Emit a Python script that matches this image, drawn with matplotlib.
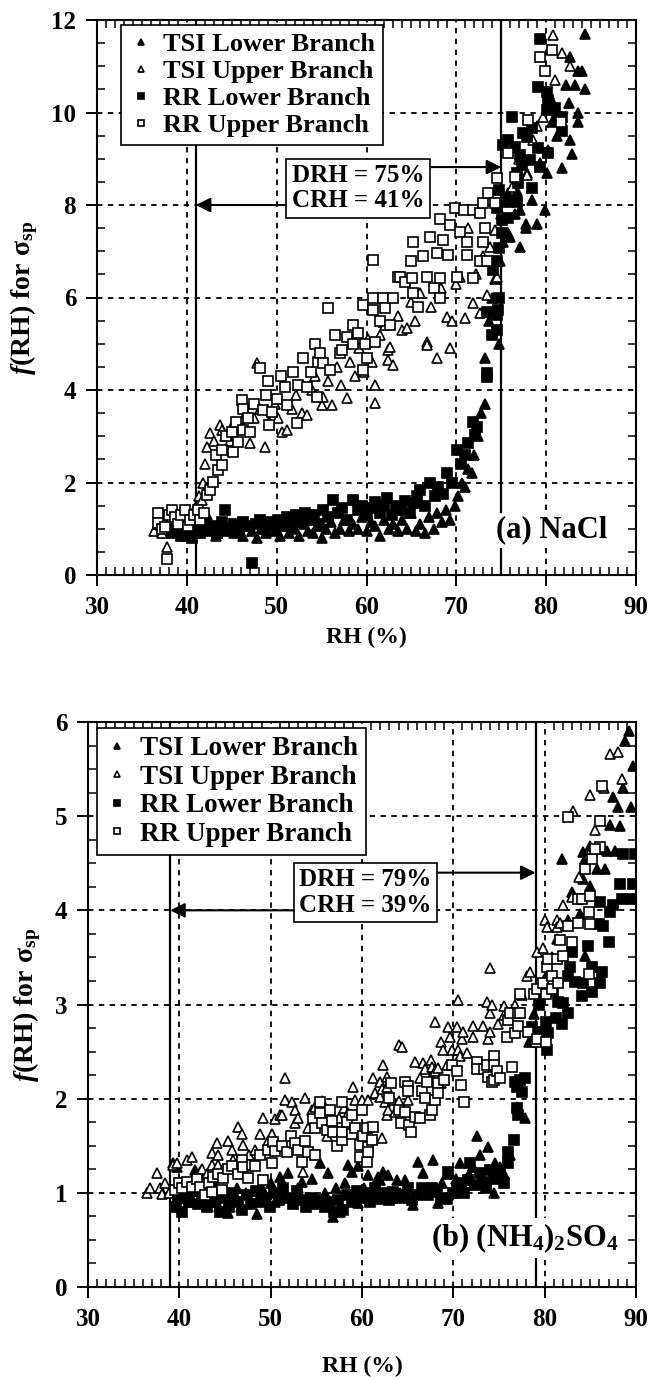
import numpy as np
import matplotlib
matplotlib.use("Agg")
import matplotlib.pyplot as plt
from matplotlib.ticker import MultipleLocator

plt.rcParams['font.family'] = 'serif'
plt.rcParams['font.serif'] = ['Liberation Serif', 'DejaVu Serif']
plt.rcParams['font.weight'] = 'bold'
plt.rcParams['mathtext.fontset'] = 'custom'
plt.rcParams['mathtext.rm'] = 'Liberation Serif:bold'
plt.rcParams['mathtext.it'] = 'Liberation Serif:italic:bold'
plt.rcParams['mathtext.bf'] = 'Liberation Serif:bold'

# ---- (a) NaCl : (RH %, f(RH)) ----
nacl_tsi_lower = [
    (38.5, 0.95), (39.2, 1.05), (39.8, 0.85), (40.3, 1.0), (40.8, 0.9), (41.3, 1.1), (41.8, 0.95),
    (42.3, 1.3), (42.8, 1.0), (43.2, 0.85), (43.7, 1.05), (44.2, 0.95), (44.8, 1.1), (45.3, 0.9),
    (45.8, 1.0), (46.2, 0.85), (46.7, 1.05), (47.2, 0.95), (47.8, 0.8), (48.3, 1.0), (48.8, 0.9),
    (49.3, 1.1), (49.8, 0.95), (50.4, 0.85), (50.9, 1.05), (51.4, 0.9), (52.0, 1.0), (52.5, 0.85),
    (53.0, 1.1), (53.5, 0.95), (54.0, 0.9), (54.5, 1.05), (55.0, 0.8), (55.5, 1.0), (56.0, 1.15),
    (56.5, 0.9), (57.0, 1.0), (57.5, 1.2), (58.0, 0.95), (58.5, 1.1), (59.0, 1.0), (59.5, 1.25),
    (60.0, 0.95), (60.5, 1.15), (61.0, 1.05), (61.5, 0.85), (62.0, 1.2), (62.5, 1.0), (63.0, 1.1),
    (63.5, 0.95), (64.0, 1.2), (64.5, 1.0), (65.0, 1.35), (65.5, 0.95), (66.0, 1.1), (66.5, 0.9),
    (67.0, 1.25), (67.5, 1.0), (67.9, 1.35), (68.4, 1.15), (68.9, 1.4), (69.3, 1.2), (69.8, 1.5),
    (70.2, 1.7), (70.6, 2.0), (71.0, 1.9), (71.3, 2.3), (71.7, 2.2), (72.0, 2.6), (72.4, 3.0),
    (72.8, 3.5), (73.2, 3.7), (73.2, 4.7), (73.6, 5.5), (74.0, 6.0), (74.3, 6.4), (74.7, 5.0),
    (74.9, 6.8), (75.2, 7.2), (75.7, 7.4), (76.0, 7.3), (75.8, 8.25), (76.5, 7.8), (76.8, 8.3),
    (77.1, 7.1), (77.1, 7.9), (77.7, 7.5), (77.7, 7.6), (77.9, 8.7), (78.4, 8.1), (79.0, 7.6),
    (79.3, 8.9), (79.9, 7.9), (80.1, 8.7), (80.2, 9.2), (80.7, 9.8), (80.8, 10.2), (81.2, 9.5),
    (81.8, 8.8), (82.2, 10.6), (82.5, 10.2), (82.7, 9.4), (82.7, 11.2), (82.9, 9.1), (83.2, 10.6),
    (83.5, 10.0), (83.5, 10.9), (83.5, 9.8), (84.0, 10.9), (84.3, 10.5), (84.3, 11.7),
]
nacl_tsi_upper = [
    (36.3, 0.95), (36.8, 1.1), (37.2, 0.9), (37.6, 1.15), (37.8, 0.6), (38.2, 1.0), (38.7, 1.25),
    (39.1, 0.95), (39.6, 1.2), (40.1, 1.1), (40.5, 1.3), (40.9, 1.45), (41.3, 1.7), (41.7, 1.62),
    (41.8, 2.0), (42.0, 2.4), (42.2, 2.77), (42.6, 3.07), (43.0, 2.9), (43.7, 3.24), (43.9, 3.13),
    (44.3, 3.0), (44.8, 2.9), (45.2, 3.3), (45.6, 2.9), (46.2, 3.2), (46.6, 3.5), (47.0, 2.85),
    (47.5, 3.4), (47.8, 4.58), (48.2, 3.6), (48.7, 2.77), (49.2, 3.3), (49.8, 3.7), (50.2, 3.4),
    (50.6, 3.1), (51.2, 3.13), (51.7, 3.6), (52.2, 3.9), (52.8, 3.5), (53.4, 3.46), (53.9, 4.0),
    (54.3, 4.3), (55.1, 3.68), (55.2, 3.85), (55.7, 4.2), (56.2, 3.68), (56.7, 4.5), (57.2, 4.1),
    (57.8, 3.83), (58.2, 4.6), (58.7, 4.3), (59.2, 4.9), (59.7, 4.4), (60.2, 5.1), (60.6, 4.6),
    (61.0, 3.72), (61.0, 4.1), (61.5, 5.2), (61.8, 5.47), (62.1, 5.4), (62.4, 4.87), (62.4, 4.65),
    (62.6, 4.93), (63.0, 4.54), (63.5, 5.6), (64.0, 5.3), (64.5, 5.34), (65.0, 5.9), (65.4, 5.5),
    (66.0, 6.1), (66.7, 5.04), (66.7, 4.97), (67.2, 5.8), (67.9, 4.7), (68.3, 6.2), (69.0, 5.58),
    (69.3, 4.9), (69.5, 5.5), (70.0, 6.3), (70.4, 6.45), (71.0, 5.55), (71.3, 7.5), (71.8, 5.88),
    (72.2, 6.5), (72.6, 5.66), (73.0, 6.9), (73.4, 6.05), (73.8, 7.1), (74.3, 7.46), (74.5, 6.45),
    (75.0, 7.8), (75.5, 8.1), (76.2, 8.4), (77.0, 9.0), (77.9, 8.65), (78.5, 9.4), (79.0, 9.7),
    (79.6, 9.9), (80.3, 10.4), (80.8, 11.68), (81.0, 10.7), (81.8, 11.28), (82.7, 11.0),
]
nacl_rr_lower = [
    (38.3, 0.9), (38.8, 1.0), (39.3, 0.85), (39.7, 1.1), (40.2, 0.95), (40.6, 0.8), (41.0, 1.0),
    (41.5, 0.9), (42.0, 1.1), (42.4, 0.95), (42.9, 1.05), (43.4, 0.9), (43.9, 1.15), (44.3, 1.4),
    (44.8, 1.0), (45.3, 1.1), (45.8, 0.95), (46.3, 1.15), (46.8, 1.05), (47.3, 0.25), (47.7, 1.1),
    (48.2, 1.2), (48.7, 1.0), (49.2, 1.15), (49.7, 1.05), (50.2, 1.2), (50.7, 1.1), (51.2, 1.25),
    (51.7, 1.05), (52.2, 1.3), (52.7, 1.15), (53.2, 1.35), (53.7, 1.2), (54.2, 1.3), (54.7, 1.1),
    (55.2, 1.4), (55.7, 1.25), (56.3, 1.62), (56.8, 1.35), (57.3, 1.45), (57.8, 1.2), (58.5, 1.62),
    (59.0, 1.4), (59.5, 1.5), (60.0, 1.3), (60.5, 1.45), (61.0, 1.58), (61.5, 1.35), (62.0, 1.5),
    (62.3, 1.66), (62.8, 1.3), (63.3, 1.5), (63.8, 1.4), (64.3, 1.6), (64.8, 1.35), (65.3, 1.55),
    (65.6, 1.7), (66.0, 1.84), (66.5, 1.5), (67.1, 2.0), (67.6, 1.7), (68.0, 1.9), (68.5, 1.75),
    (69.0, 2.2), (69.5, 2.0), (70.1, 2.7), (70.5, 2.4), (71.0, 2.6), (71.3, 2.85), (71.8, 3.3),
    (72.1, 3.03), (72.3, 3.2), (73.4, 4.37), (73.4, 4.28), (73.4, 5.69), (74.0, 5.2), (74.1, 6.6),
    (74.5, 5.3), (74.5, 6.8), (74.5, 5.62), (74.6, 5.73), (74.7, 6.0), (74.7, 7.07), (74.7, 8.32),
    (74.5, 7.94), (75.1, 7.4), (75.1, 7.68), (75.2, 9.3), (75.8, 7.72), (75.8, 8.07), (75.8, 9.4),
    (76.2, 9.9), (76.5, 9.25), (76.8, 8.07), (76.8, 8.7), (76.9, 8.47), (77.1, 9.08), (77.3, 8.86),
    (77.4, 9.56), (77.9, 9.47), (78.2, 8.97), (78.4, 8.37), (78.4, 9.66), (79.1, 9.23), (79.1, 10.55),
    (79.3, 8.82), (79.3, 11.6), (80.1, 10.44), (80.1, 10.05), (80.2, 9.12), (80.2, 10.27),
    (81.0, 10.1), (81.2, 9.9), (81.8, 9.9), (81.8, 9.6),
]
nacl_rr_upper = [
    (36.8, 1.34), (36.8, 1.12), (37.2, 1.0), (37.6, 1.04), (37.8, 0.35), (38.0, 1.3), (38.4, 1.4),
    (38.7, 1.25), (39.0, 1.1), (39.4, 1.3), (39.8, 1.4), (40.1, 1.05), (40.4, 1.19), (40.8, 1.3),
    (41.2, 1.4), (41.5, 1.19), (41.9, 1.35), (42.2, 1.73), (42.6, 1.84), (42.9, 2.01), (43.3, 2.6),
    (43.5, 2.27), (43.9, 2.38), (43.9, 2.7), (44.4, 3.0), (45.0, 3.09), (45.1, 2.66), (45.5, 3.3),
    (45.7, 2.88), (46.1, 3.78), (46.3, 3.6), (46.3, 3.13), (46.8, 3.4), (47.0, 3.09), (47.5, 3.7),
    (48.2, 4.47), (48.5, 3.57), (48.8, 3.9), (49.0, 4.2), (49.1, 3.24), (49.5, 3.52), (50.0, 3.8),
    (50.5, 4.3), (50.9, 4.06), (51.2, 3.67), (51.8, 4.4), (52.3, 3.28), (52.4, 4.1), (52.9, 4.7),
    (53.4, 4.06), (53.8, 4.4), (54.3, 5.0), (54.5, 3.85), (54.6, 4.6), (54.8, 4.8), (55.2, 4.58),
    (55.7, 5.77), (55.9, 4.43), (56.5, 5.2), (57.0, 4.8), (57.3, 4.86), (57.8, 5.15), (58.5, 5.4),
    (58.5, 5.0), (59.0, 5.23), (59.6, 5.84), (59.6, 4.43), (59.8, 5.0), (60.1, 4.7), (60.7, 5.73),
    (60.7, 6.0), (60.7, 6.81), (61.0, 5.04), (61.5, 5.5), (61.8, 6.0), (62.1, 5.77), (62.6, 5.4),
    (63.0, 6.0), (63.5, 6.44), (63.7, 6.44), (64.3, 6.33), (64.9, 6.8), (65.2, 6.1), (65.2, 7.2),
    (65.1, 6.42), (65.7, 5.8), (66.3, 6.9), (66.7, 6.44), (67.1, 7.3), (67.5, 6.2), (67.9, 6.96),
    (68.2, 7.7), (68.2, 6.42), (68.2, 6.0), (68.5, 7.24), (69.1, 6.92), (69.3, 7.57), (69.9, 7.94),
    (70.1, 6.44), (70.4, 7.42), (70.8, 7.9), (71.2, 7.2), (71.2, 6.92), (71.8, 7.9), (71.8, 6.42),
    (72.6, 7.83), (72.6, 6.8), (73.0, 8.04), (73.0, 7.2), (73.2, 7.5), (73.4, 6.8), (73.5, 8.26),
    (74.3, 8.04), (74.5, 8.58), (75.8, 9.12), (76.5, 8.6), (78.0, 9.84), (79.3, 11.2), (79.9, 10.9),
    (80.7, 11.35), (81.6, 9.8),
]

# ---- (b) (NH4)2SO4 ----
amsul_tsi_lower = [
    (39.3, 1.32), (39.7, 1.27), (40.2, 0.95), (40.7, 1.05), (41.2, 0.9), (41.7, 1.24), (42.3, 1.22),
    (42.8, 1.0), (43.3, 0.9), (43.8, 1.1), (44.3, 0.85), (44.8, 1.0), (45.3, 0.79), (45.8, 0.95),
    (46.3, 1.05), (46.8, 0.85), (47.3, 1.0), (47.8, 0.9), (48.5, 0.77), (49.0, 1.05), (49.5, 0.95),
    (50.0, 1.1), (50.5, 0.9), (51.0, 1.17), (51.5, 1.0), (51.9, 1.21), (52.5, 0.95), (53.0, 1.05),
    (53.4, 1.12), (54.0, 0.9), (54.5, 1.15), (55.0, 0.95), (55.4, 1.32), (55.9, 1.0), (56.3, 1.21),
    (56.8, 0.74), (57.2, 1.05), (57.6, 0.8), (58.1, 1.1), (58.5, 1.3), (58.9, 1.22), (59.3, 1.0),
    (59.6, 1.28), (59.6, 0.89), (60.2, 1.05), (60.7, 1.19), (61.2, 0.95), (61.7, 1.17), (62.0, 1.14),
    (62.3, 1.22), (62.9, 1.19), (63.3, 0.95), (63.8, 1.14), (64.2, 1.0), (64.7, 1.14), (65.2, 0.95),
    (65.6, 0.87), (66.1, 1.33), (66.7, 1.21), (67.2, 1.05), (67.8, 1.35), (68.3, 0.89), (68.8, 1.1),
    (69.3, 1.2), (69.8, 1.0), (70.3, 1.15), (70.7, 1.32), (71.2, 1.05), (71.7, 1.2), (72.2, 1.27),
    (72.6, 1.6), (72.9, 1.4), (73.3, 1.15), (73.8, 1.49), (74.4, 1.0), (74.6, 1.32), (75.1, 1.27),
    (75.6, 1.2), (76.2, 1.4), (77.0, 1.91), (77.9, 1.8), (78.3, 2.6), (78.8, 2.9), (79.5, 3.1),
    (80.2, 3.3), (80.8, 3.5), (81.3, 3.7), (81.9, 4.54), (82.5, 3.9), (83.0, 4.2), (83.9, 3.96),
    (84.2, 4.62), (84.2, 4.33), (84.4, 4.54), (84.4, 3.51), (85.0, 4.68), (85.0, 4.26), (85.7, 4.44),
    (85.9, 4.65), (86.6, 4.44), (86.8, 4.63), (87.2, 4.91), (87.5, 5.2), (87.7, 4.63), (88.0, 5.1),
    (88.3, 4.9), (88.6, 5.3), (88.8, 5.8), (89.2, 5.9), (89.7, 5.53), (89.5, 5.1),
]
amsul_tsi_upper = [
    (36.5, 1.0), (36.8, 1.05), (37.6, 1.21), (37.9, 1.05), (38.1, 0.99), (38.4, 1.1), (38.9, 1.0),
    (39.3, 1.3), (39.7, 1.32), (40.2, 1.1), (40.8, 1.35), (41.4, 1.38), (41.9, 1.15), (42.5, 1.25),
    (43.0, 1.2), (43.6, 1.42), (43.6, 1.3), (44.1, 1.53), (44.2, 1.4), (44.2, 1.3), (44.8, 1.25),
    (45.3, 1.55), (45.8, 1.46), (45.9, 1.35), (46.4, 1.7), (46.9, 1.62), (47.0, 1.51), (47.6, 1.4),
    (48.3, 1.46), (48.8, 1.62), (49.2, 1.8), (49.7, 1.55), (50.2, 1.62), (50.5, 1.78), (51.0, 1.83),
    (51.2, 1.83), (51.6, 2.22), (51.6, 1.99), (52.3, 1.96), (52.7, 1.88), (52.7, 1.74), (53.0, 1.8),
    (53.5, 1.22), (53.8, 2.01), (54.1, 1.69), (54.5, 1.88), (54.9, 1.91), (55.6, 1.97), (55.7, 1.9),
    (56.2, 1.6), (56.5, 1.74), (57.0, 1.7), (57.5, 1.8), (58.0, 1.9), (58.5, 1.85), (59.0, 2.12),
    (59.2, 1.99), (60.0, 1.99), (60.7, 1.99), (61.2, 2.22), (61.4, 2.06), (62.0, 2.18), (62.0, 2.02),
    (62.2, 2.1), (62.2, 1.58), (62.3, 2.36), (62.5, 1.96), (62.7, 2.23), (62.7, 2.12), (62.7, 1.83),
    (62.9, 1.88), (63.4, 1.99), (63.6, 1.86), (64.0, 1.97), (64.0, 2.57), (64.4, 2.55), (65.0, 1.99),
    (65.8, 2.39), (66.4, 2.22), (66.7, 2.38), (66.9, 2.31), (67.5, 2.41), (67.5, 2.23), (67.7, 2.34),
    (68.0, 2.81), (68.0, 2.29), (68.3, 2.33), (68.6, 2.6), (68.6, 2.17), (68.9, 2.52), (68.9, 2.2),
    (69.3, 2.36), (69.4, 2.76), (69.6, 2.66), (69.9, 2.52), (70.4, 2.76), (70.5, 2.52), (70.5, 3.05),
    (70.7, 2.45), (71.0, 2.63), (71.1, 2.71), (71.5, 2.49), (72.1, 2.65), (72.2, 2.77), (73.2, 2.77),
    (73.7, 3.03), (73.8, 2.63), (74.0, 2.71), (74.0, 2.91), (74.0, 3.39), (74.2, 3.0), (74.9, 2.79),
    (75.5, 2.89), (75.5, 2.98), (76.0, 2.91), (76.8, 3.0), (77.5, 3.1), (78.1, 3.3), (78.4, 3.34),
    (79.2, 3.56), (79.8, 3.6), (80.0, 3.9), (80.3, 3.82), (81.4, 3.9), (81.4, 3.82), (81.7, 3.87),
    (82.0, 4.06), (83.0, 4.14), (83.1, 5.06), (83.8, 4.35), (84.8, 4.6), (85.0, 5.23), (85.5, 4.85),
    (86.5, 5.3), (87.2, 5.66), (88.0, 5.68), (88.5, 5.4),
]
amsul_rr_lower = [
    (39.6, 0.85), (39.9, 0.95), (40.3, 0.8), (40.7, 1.0), (41.1, 0.9), (41.6, 1.02), (42.0, 0.88),
    (42.5, 0.95), (43.0, 0.85), (43.4, 1.0), (43.9, 0.9), (44.4, 0.8), (44.9, 0.95), (45.4, 0.85),
    (45.9, 1.0), (46.4, 0.9), (46.9, 0.82), (47.4, 0.98), (47.9, 0.88), (48.4, 1.02), (48.9, 0.9),
    (49.4, 0.95), (49.9, 0.85), (50.4, 1.0), (50.9, 0.92), (51.4, 1.05), (51.9, 0.95), (52.4, 0.88),
    (52.9, 1.02), (53.4, 0.92), (53.9, 0.85), (54.4, 0.95), (54.9, 0.88), (55.4, 0.92), (55.9, 0.85),
    (56.4, 0.9), (56.9, 0.8), (57.4, 0.92), (57.9, 0.82), (58.4, 0.98), (58.9, 0.9), (59.4, 1.02),
    (59.9, 0.95), (60.4, 1.0), (60.9, 0.9), (61.4, 1.05), (62.0, 0.93), (62.6, 1.0), (63.0, 0.92),
    (63.4, 1.01), (64.0, 0.95), (64.5, 0.98), (65.0, 1.05), (65.5, 0.92), (66.0, 0.98), (66.6, 1.05),
    (67.2, 0.98), (67.7, 1.05), (68.2, 1.01), (68.7, 0.95), (69.3, 0.93), (69.4, 1.22), (70.0, 1.0),
    (70.4, 1.05), (70.7, 1.1), (71.2, 1.0), (71.6, 1.14), (71.8, 1.32), (72.4, 1.08), (72.9, 1.21),
    (73.2, 1.12), (73.6, 1.05), (74.0, 1.24), (74.5, 1.15), (75.1, 1.21), (75.6, 1.1), (76.0, 1.43),
    (76.0, 1.32), (76.6, 1.56), (76.8, 2.18), (77.0, 1.9), (77.0, 2.12), (77.1, 1.83), (77.3, 2.2),
    (77.5, 2.07), (77.9, 2.22), (78.6, 2.76), (79.0, 2.7), (79.4, 3.0), (79.8, 2.71), (80.1, 2.81),
    (80.3, 2.52), (80.4, 2.7), (80.9, 3.13), (81.2, 2.86), (81.5, 3.03), (81.9, 2.79), (82.0, 3.02),
    (82.6, 2.91), (82.6, 3.3), (82.8, 3.4), (83.0, 3.56), (83.3, 3.24), (84.1, 3.09), (84.2, 3.23),
    (84.7, 3.62), (85.2, 3.4), (85.2, 3.13), (85.9, 3.85), (86.1, 3.23), (86.1, 4.09), (86.3, 3.35),
    (86.4, 3.83), (87.0, 3.66), (87.2, 3.98), (87.5, 4.06), (88.3, 4.28), (88.5, 4.12), (88.6, 4.6),
    (89.6, 4.12), (89.7, 4.28), (89.9, 4.6),
]
amsul_rr_upper = [
    (39.5, 1.03), (40.0, 1.1), (40.3, 1.05), (40.8, 1.12), (41.4, 1.06), (41.9, 1.15), (42.3, 1.06),
    (42.8, 0.98), (43.2, 1.1), (43.6, 1.01), (43.7, 1.17), (44.2, 1.2), (44.7, 1.03), (44.8, 1.16),
    (45.3, 1.25), (45.8, 1.28), (46.4, 1.2), (46.9, 1.35), (47.0, 1.27), (47.5, 1.16), (48.0, 1.3),
    (48.3, 1.28), (48.8, 1.4), (49.2, 1.14), (49.7, 1.45), (50.2, 1.32), (50.3, 1.54), (50.5, 1.44),
    (51.2, 1.5), (51.8, 1.43), (52.2, 1.6), (52.7, 1.53), (53.0, 1.45), (53.4, 1.33), (53.8, 1.55),
    (54.1, 1.43), (54.6, 1.78), (54.9, 1.4), (54.9, 1.69), (55.4, 1.96), (55.4, 1.85), (55.6, 1.74),
    (56.2, 1.67), (56.5, 1.88), (56.7, 1.76), (56.8, 1.65), (57.3, 1.5), (57.8, 1.96), (57.8, 1.56),
    (57.8, 1.65), (58.4, 1.75), (58.9, 1.83), (58.9, 1.62), (59.2, 1.69), (59.8, 1.51), (59.8, 1.38),
    (60.0, 1.88), (60.1, 1.6), (60.6, 1.69), (60.6, 1.33), (60.7, 1.49), (60.7, 1.43), (61.1, 1.56),
    (61.2, 1.7), (63.0, 2.01), (63.2, 2.17), (64.1, 1.88), (64.3, 1.74), (64.7, 2.18), (64.7, 1.86),
    (65.0, 2.13), (65.0, 2.08), (65.2, 1.72), (65.4, 1.65), (65.8, 1.81), (66.3, 1.80), (66.6, 2.08),
    (66.9, 2.01), (67.1, 2.18), (67.4, 1.83), (67.7, 1.88), (68.0, 1.99), (68.3, 2.17), (68.3, 2.06),
    (69.0, 2.2), (69.9, 2.36), (70.4, 2.29), (70.8, 2.15), (71.2, 1.96), (72.6, 2.39), (72.6, 2.31),
    (73.4, 2.31), (73.7, 2.36), (73.8, 2.23), (74.2, 2.18), (74.5, 2.45), (74.5, 2.36), (74.5, 2.2),
    (74.8, 2.29), (75.1, 2.22), (75.9, 2.66), (76.0, 2.84), (76.2, 2.91), (76.4, 2.34), (76.8, 2.7),
    (77.1, 2.77), (77.1, 2.91), (77.3, 2.91), (77.3, 3.11), (78.2, 2.71), (78.8, 3.11), (79.0, 2.6),
    (79.2, 2.63), (79.2, 3.16), (79.8, 3.23), (80.1, 2.6), (80.1, 3.11), (80.3, 3.4), (80.4, 3.48),
    (80.8, 3.16), (80.8, 3.3), (81.4, 3.48), (81.5, 3.23), (81.7, 3.69), (82.0, 3.51), (82.5, 3.83),
    (83.0, 3.66), (83.6, 3.87), (83.6, 4.12), (84.1, 4.12), (84.4, 4.44), (84.8, 3.98), (84.8, 3.32),
    (85.0, 3.85), (85.0, 4.15), (85.2, 4.54), (86.1, 4.67), (86.1, 4.95), (86.3, 5.32), (82.5, 4.99),
    (85.5, 4.65),
]

series_names = ['TSI Lower Branch', 'TSI Upper Branch', 'RR Lower Branch', 'RR Upper Branch']
series_marker = ['^', '^', 's', 's']
series_face = ['black', 'white', 'black', 'white']

nacl_drh, nacl_crh = 75, 41
amsul_drh, amsul_crh = 79, 39

W, H = 652, 1381
fig = plt.figure(figsize=(W / 100, H / 100), dpi=100)
ax_a = fig.add_axes([97 / W, 1 - 575 / H, (636 - 97) / W, (575 - 20) / H])
ax_b = fig.add_axes([88 / W, 1 - 1287 / H, (636 - 88) / W, (1287 - 722) / H])


def draw_panel(ax, sets, ymax, ystep, yminor, drh, crh, drh_y, crh_y,
               box_x, box_y, label, label_x, label_y, leg_anchor, leg_size, xpad):
    for pts, name, mk, fc in zip(sets, series_names, series_marker, series_face):
        pts = np.array(pts)
        ms = 7.5 if mk == '^' else 6.5
        ax.plot(pts[:, 0], pts[:, 1], linestyle='none', marker=mk, ms=ms,
                mfc=fc, mec='black', mew=1.2, label=name, zorder=3)

    ax.axvline(crh, color='black', lw=1.6, zorder=2.5)
    ax.axvline(drh, color='black', lw=1.6, zorder=2.5)

    ax.set_xlim(30, 90)
    ax.set_ylim(0, ymax)
    ax.xaxis.set_major_locator(MultipleLocator(10))
    ax.xaxis.set_minor_locator(MultipleLocator(1))
    ax.yaxis.set_major_locator(MultipleLocator(ystep))
    ax.yaxis.set_minor_locator(MultipleLocator(yminor))
    ax.grid(True, which='major', color='black', linestyle=(0, (3, 3)), linewidth=1.3)
    ax.set_axisbelow(True)
    ax.tick_params(which='major', direction='out', length=8, width=1.4,
                   top=False, right=False, labelsize=18, pad=7)
    ax.tick_params(which='minor', direction='in', length=6, width=1.1,
                   top=True, right=True)
    for sp in ax.spines.values():
        sp.set_linewidth(1.5)

    ax.set_xlabel('RH (%)', fontsize=17, fontweight='bold', labelpad=xpad)
    ax.set_ylabel(r'$\mathit{f}\mathrm{(RH)\ for\ σ}_{\mathrm{sp}}$', fontsize=20, labelpad=8)

    # DRH / CRH box with arrows pointing to the two vertical lines
    ax.annotate('', xy=(drh, drh_y), xytext=(box_x, drh_y),
                arrowprops=dict(arrowstyle='-|>', color='black', lw=1.5,
                                mutation_scale=22, shrinkA=0, shrinkB=0), zorder=4)
    ax.annotate('', xy=(crh, crh_y), xytext=(box_x, crh_y),
                arrowprops=dict(arrowstyle='-|>', color='black', lw=1.5,
                                mutation_scale=22, shrinkA=0, shrinkB=0), zorder=4)
    ax.text(box_x, box_y, f'DRH = {drh}%\nCRH = {crh}%', ha='center', va='center',
            fontsize=18, linespacing=1.12, zorder=6,
            bbox=dict(boxstyle='square,pad=0.22', fc='white', ec='black', lw=1.2))

    ax.text(label_x, label_y, label, ha='right', va='center', fontsize=22, zorder=6,
            bbox=dict(boxstyle='square,pad=0.1', fc='white', ec='none'))

    leg = ax.legend(loc='upper left', bbox_to_anchor=leg_anchor, borderaxespad=0,
                    fontsize=leg_size, fancybox=False, framealpha=1, edgecolor='black',
                    markerscale=0.65, handlelength=0.9, handletextpad=0.4,
                    labelspacing=0.13, borderpad=0.3)
    leg.get_frame().set_linewidth(1.2)
    leg.set_zorder(7)


draw_panel(ax_a, [nacl_tsi_lower, nacl_tsi_upper, nacl_rr_lower, nacl_rr_upper],
           12, 2, 0.5, nacl_drh, nacl_crh, 8.82, 8.0, 59.05, 8.36,
           '(a) NaCl', 86.8, 0.97, (0.0445, 0.991), 19, 6)
draw_panel(ax_b, [amsul_tsi_lower, amsul_tsi_upper, amsul_rr_lower, amsul_rr_upper],
           6, 1, 0.25, amsul_drh, amsul_crh, 4.4, 4.0, 60.4, 4.19,
           r'(b) (NH$_4$)$_2$SO$_4$', 88.05, 0.52, (0.0164, 0.989), 19.5, 18)

fig.savefig('out.png', dpi=100)
